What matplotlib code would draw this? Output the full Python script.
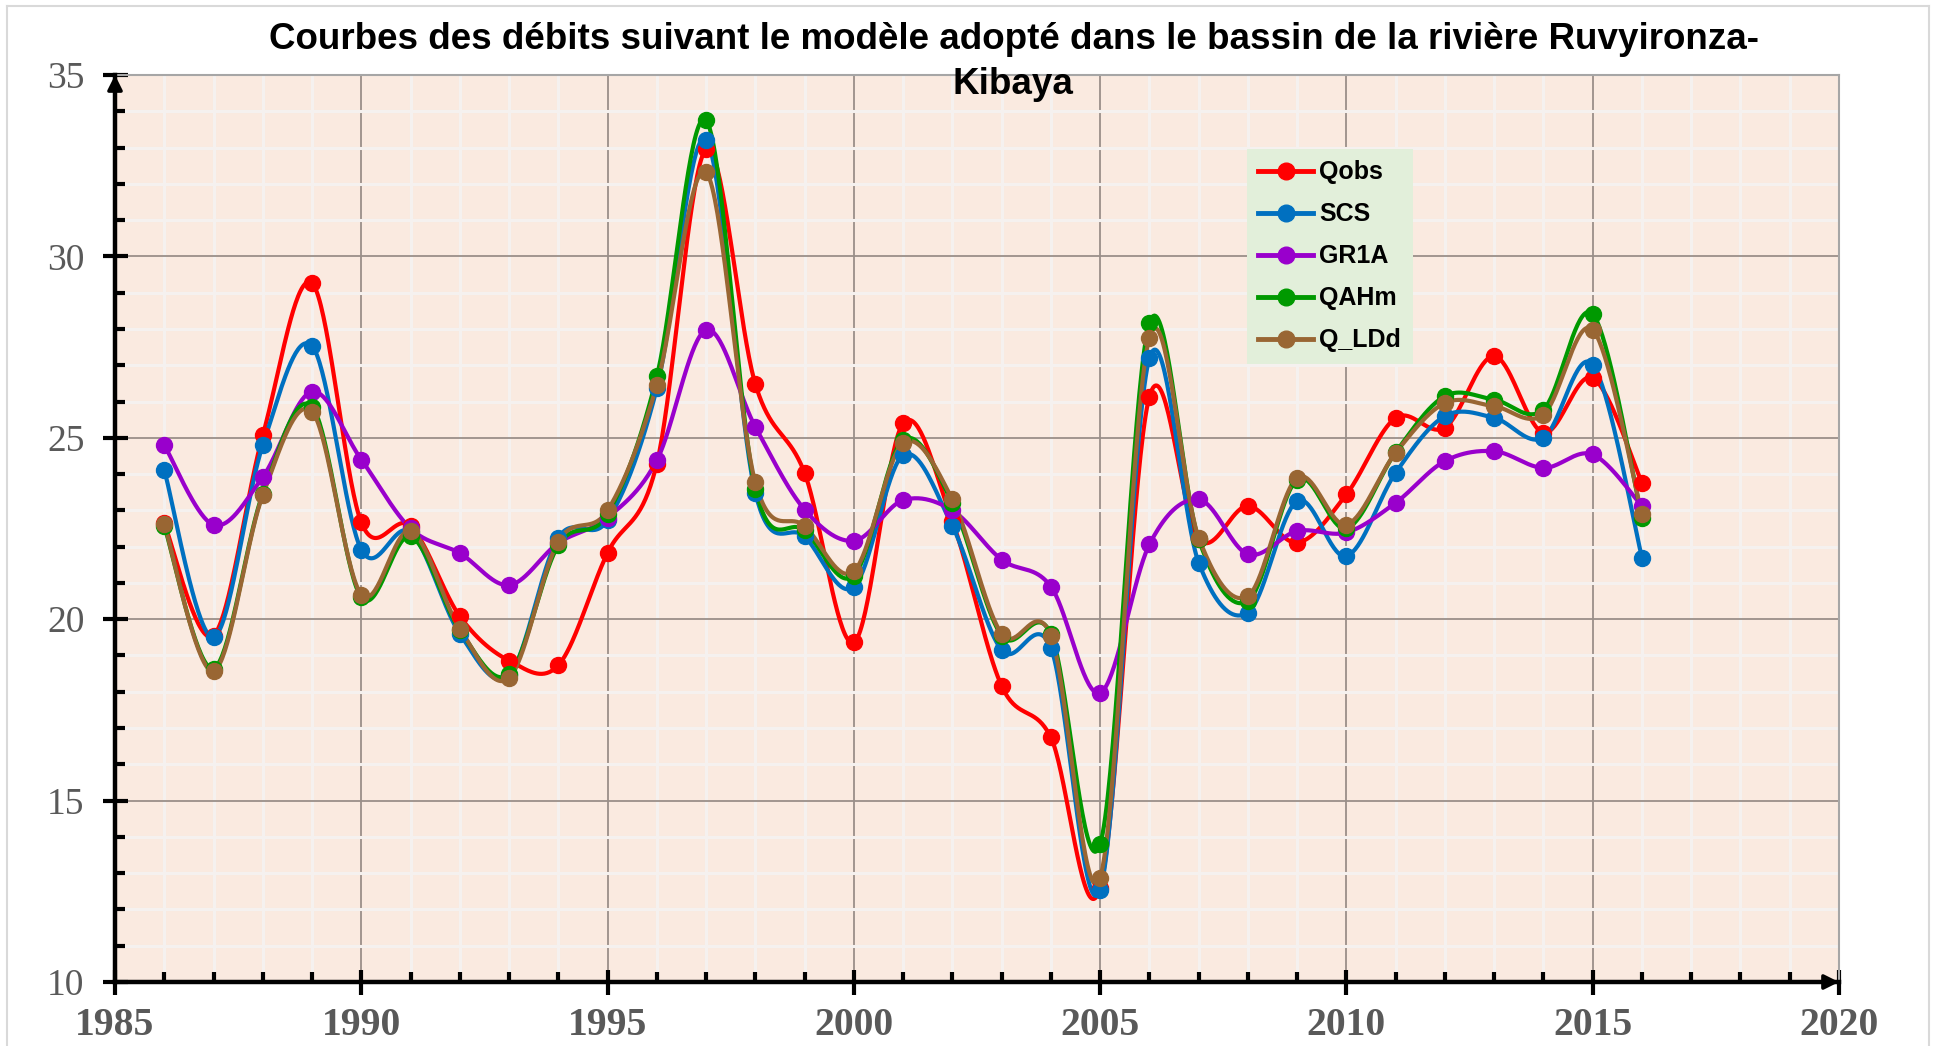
import numpy as np
import matplotlib
matplotlib.use("Agg")
import matplotlib.pyplot as plt
from matplotlib.ticker import MultipleLocator
from matplotlib.lines import Line2D

years = list(range(1986, 2017))
qobs = [22.64, 19.55, 25.07, 29.26, 22.67, 22.57, 20.08, 18.86, 18.73, 21.83,
        24.29, 32.95, 26.48, 24.03, 19.36, 25.40, 22.70, 18.16, 16.74, 12.60,
        26.13, 22.20, 23.12, 22.11, 23.44, 25.55, 25.28, 27.25, 25.14, 26.65, 23.76]
scs = [24.11, 19.50, 24.80, 27.53, 21.92, 22.40, 19.60, 18.45, 22.24, 22.73,
       26.36, 33.22, 23.48, 22.28, 20.89, 24.52, 22.57, 19.15, 19.21, 12.54,
       27.19, 21.56, 20.18, 23.26, 21.74, 24.04, 25.60, 25.55, 25.00, 27.02, 21.70]
gr1a = [24.80, 22.60, 23.92, 26.27, 24.40, 22.50, 21.82, 20.94, 22.10, 22.80,
        24.38, 27.97, 25.30, 23.02, 22.16, 23.28, 23.00, 21.64, 20.90, 17.97,
        22.06, 23.30, 21.79, 22.43, 22.39, 23.21, 24.36, 24.63, 24.17, 24.54, 23.12]
qahm = [22.57, 18.64, 23.46, 25.86, 20.60, 22.28, 19.70, 18.49, 22.04, 22.90,
        26.69, 33.75, 23.60, 22.45, 21.20, 24.94, 23.20, 19.55, 19.60, 13.80,
        28.16, 22.20, 20.50, 23.85, 22.50, 24.60, 26.15, 26.05, 25.78, 28.41, 22.80]
q_ldd = [22.62, 18.57, 23.42, 25.72, 20.68, 22.43, 19.74, 18.38, 22.14, 23.00,
         26.45, 32.32, 23.77, 22.57, 21.32, 24.85, 23.30, 19.60, 19.55, 12.88,
         27.76, 22.25, 20.64, 23.90, 22.61, 24.59, 25.96, 25.87, 25.64, 27.98, 22.89]

series_names = ["Qobs", "SCS", "GR1A", "QAHm", "Q_LDd"]
series_values = [qobs, scs, gr1a, qahm, q_ldd]
series_colors = ["#FF0000", "#0070C0", "#9900CC", "#009900", "#996633"]

title_line1 = "Courbes des débits suivant le modèle adopté dans le bassin de la rivière Ruvyironza-"
title_line2 = "Kibaya"


def smooth(x, y, n=40):
    x = np.asarray(x, float)
    y = np.asarray(y, float)
    px = np.concatenate([[x[0]], x, [x[-1]]])
    py = np.concatenate([[y[0]], y, [y[-1]]])
    xs, ys = [], []
    t = np.linspace(0, 1, n)
    for i in range(1, len(px) - 2):
        p0 = np.array([px[i], py[i]])
        p3 = np.array([px[i + 1], py[i + 1]])
        p1 = p0 + (np.array([px[i + 1], py[i + 1]]) - np.array([px[i - 1], py[i - 1]])) / 6.0
        p2 = p3 - (np.array([px[i + 2], py[i + 2]]) - np.array([px[i], py[i]])) / 6.0
        b = ((1 - t) ** 3)[:, None] * p0 + (3 * (1 - t) ** 2 * t)[:, None] * p1 \
            + (3 * (1 - t) * t ** 2)[:, None] * p2 + (t ** 3)[:, None] * p3
        xs.append(b[:, 0])
        ys.append(b[:, 1])
    return np.concatenate(xs), np.concatenate(ys)


W, H = 1937, 1046
fig = plt.figure(figsize=(W / 100, H / 100), dpi=100)
fig.patch.set_facecolor("white")
ax = fig.add_axes([115 / W, 1 - 982 / H, (1839 - 115) / W, (982 - 75) / H])
ax.set_facecolor("#FAEAE0")

ax.set_xlim(1985, 2020)
ax.set_ylim(10, 35)
ax.xaxis.set_major_locator(MultipleLocator(5))
ax.xaxis.set_minor_locator(MultipleLocator(1))
ax.yaxis.set_major_locator(MultipleLocator(5))
ax.yaxis.set_minor_locator(MultipleLocator(1))

ax.grid(which="minor", color="#F5F1EF", linewidth=2.2, zorder=0)
ax.grid(which="major", color="#9A8F89", linewidth=1.3, zorder=0.5)
ax.set_axisbelow(True)

for name, vals, col in zip(series_names, series_values, series_colors):
    sx, sy = smooth(years, vals)
    ax.plot(sx, sy, color=col, lw=3.0, zorder=3, solid_capstyle="round")
    ax.plot(years, vals, linestyle="none", marker="o", markersize=11.5,
            color=col, zorder=4)

handles = [Line2D([0], [0], color=c, lw=3.5, marker="o", markersize=12)
           for c in series_colors]
leg = ax.legend(handles, series_names, loc="upper left",
                bbox_to_anchor=((1247 - 115) / 1724, (982 - 149) / 907),
                borderaxespad=0, frameon=True, fancybox=False,
                facecolor="#E2EFDA", edgecolor="none", framealpha=1,
                prop={"family": "Liberation Sans", "weight": "bold", "size": 18},
                handlelength=2.2, handletextpad=0.25, labelspacing=0.72,
                borderpad=0.45)
leg.set_zorder(5)

for s in ["top", "right"]:
    ax.spines[s].set_color("#A6A6A6")
    ax.spines[s].set_linewidth(1.5)
for s in ["left", "bottom"]:
    ax.spines[s].set_color("black")
    ax.spines[s].set_linewidth(3.2)
    ax.spines[s].set_zorder(6)

ax.tick_params(which="major", direction="inout", length=18, width=3, color="black")
ax.tick_params(which="minor", direction="in", length=7, width=3, color="black")
ax.tick_params(axis="x", which="both", top=False)
ax.tick_params(axis="y", which="both", right=False)
ax.tick_params(axis="y", which="major", pad=13)
ax.tick_params(axis="x", which="major", pad=9)

for lab in ax.get_yticklabels():
    lab.set_family("Liberation Serif")
    lab.set_fontsize(27)
    lab.set_color("#595959")
for lab in ax.get_xticklabels():
    lab.set_family("Liberation Serif")
    lab.set_fontsize(28.5)
    lab.set_fontweight("bold")
    lab.set_color("#595959")

# axis arrows
ax.annotate("", xy=(0, 1.0), xytext=(0, 0.96), xycoords="axes fraction",
            arrowprops=dict(arrowstyle="-|>", color="black", lw=2.5,
                            mutation_scale=22, shrinkA=0, shrinkB=0), zorder=7)
ax.annotate("", xy=(1.0, 0), xytext=(0.98, 0), xycoords="axes fraction",
            arrowprops=dict(arrowstyle="-|>", color="black", lw=2.5,
                            mutation_scale=22, shrinkA=0, shrinkB=0), zorder=7)

fig.text(1014 / W, 1 - 49 / H, title_line1, ha="center", va="baseline",
         fontsize=26.5, fontweight="bold", family="Liberation Sans")
fig.text(1013 / W, 1 - 94 / H, title_line2, ha="center", va="baseline",
         fontsize=26.5, fontweight="bold", family="Liberation Sans")

# outer chart border
for xs_, ys_ in [([7 / W, 7 / W], [0, 1 - 6 / H]),
                 ([7 / W, 1929 / W], [1 - 6 / H, 1 - 6 / H]),
                 ([1929 / W, 1929 / W], [0, 1 - 6 / H])]:
    fig.add_artist(Line2D(xs_, ys_, color="#D9D9D9", lw=1.5,
                          transform=fig.transFigure))

fig.savefig("out.png", dpi=100, facecolor="white")
